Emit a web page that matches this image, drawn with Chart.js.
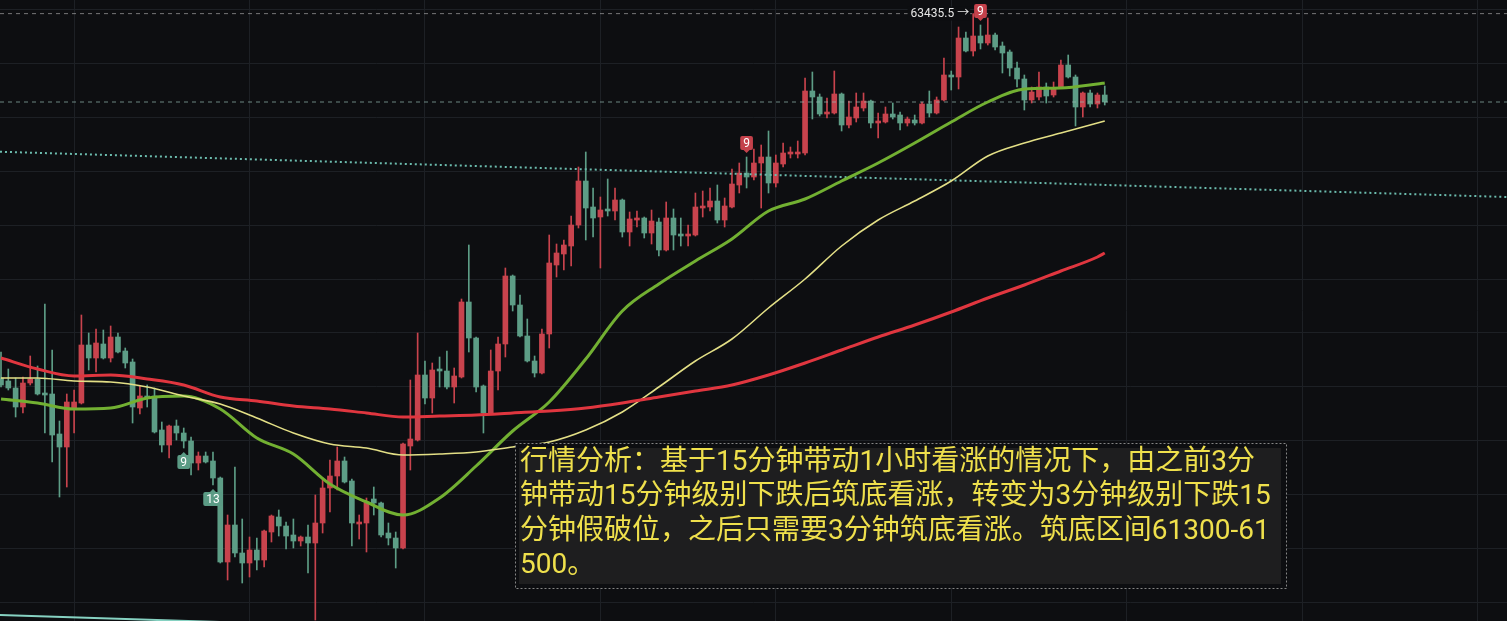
<!DOCTYPE html>
<html lang="zh">
<head>
    <meta charset="UTF-8">
    <title>行情分析</title>
    <script src="https://cdn.jsdelivr.net/npm/chart.js"></script>
    <style>
        body {
            margin: 0;
            background-color: #0d0e11;
            overflow: hidden;
        }

        #wrap {
            width: 1507px;
            height: 621px;
        }
    </style>
</head>
<body>
    <div id="wrap"><canvas id="kline" width="1507" height="621"></canvas></div>

    <script>
        // OHLC per candle (3-minute candles)
        const opens = [61978, 61966, 61938, 61862, 61958, 61974, 61918, 61914, 61754, 61702,
            61858, 61878, 62110, 62058, 62114, 62058, 62142, 62086, 62042, 61858,
            61906, 61906, 61770, 61710, 61786, 61758, 61726, 61638, 61666, 61646,
            61578, 61242, 61390, 61278, 61238, 61290, 61250, 61362, 61422, 61386,
            61350, 61326, 61342, 61318, 61398, 61538, 61586, 61646, 61566, 61394,
            61398, 61494, 61478, 61358, 61338, 61298, 61706, 61730, 61990, 61898,
            62014, 62006, 61942, 61982, 62282, 62138, 61946, 61838, 62006, 62114,
            62386, 62270, 62146, 62046, 61998, 62154, 62430, 62474, 62506, 62590,
            62766, 62662, 62622, 62654, 62646, 62690, 62562, 62610, 62618, 62558,
            62602, 62490, 62618, 62554, 62546, 62550, 62658, 62662, 62686, 62610,
            62662, 62750, 62798, 62782, 62838, 62862, 62758, 62834, 62874, 62874,
            62878, 63126, 63102, 63034, 63038, 63114, 62990, 63018, 63058, 63086,
            62998, 63002, 63034, 63030, 62998, 63010, 62998, 63074, 63038, 63090,
            63190, 63182, 63338, 63286, 63346, 63318, 63350, 63306, 63282, 63218,
            63174, 63090, 63102, 63142, 63110, 63142, 63230, 63182, 63062, 63118,
            63074, 63110];
        const highs = [62082, 62014, 61978, 61982, 62066, 62026, 62274, 62090, 61806, 61914,
            61930, 62230, 62158, 62174, 62170, 62186, 62158, 62098, 62054, 61946,
            61950, 61938, 61802, 61790, 61810, 61778, 61742, 61682, 61682, 61682,
            61582, 61430, 61622, 61414, 61342, 61338, 61370, 61430, 61450, 61402,
            61414, 61346, 61390, 61510, 61578, 61650, 61702, 61662, 61574, 61430,
            61498, 61542, 61482, 61398, 61362, 61718, 61970, 62158, 62046, 62038,
            62062, 62086, 62018, 62294, 62510, 62142, 61950, 62090, 62142, 62418,
            62390, 62310, 62214, 62066, 62174, 62550, 62514, 62530, 62626, 62822,
            62882, 62738, 62702, 62774, 62738, 62694, 62642, 62646, 62622, 62650,
            62618, 62682, 62654, 62618, 62590, 62718, 62726, 62738, 62750, 62698,
            62814, 62838, 62862, 62894, 62910, 62966, 62870, 62918, 62902, 62926,
            63178, 63202, 63114, 63098, 63206, 63118, 63086, 63118, 63118, 63090,
            63038, 63062, 63078, 63042, 63022, 63030, 63082, 63126, 63102, 63258,
            63206, 63382, 63362, 63435.5, 63390, 63418, 63358, 63322, 63290, 63242,
            63190, 63142, 63202, 63158, 63162, 63250, 63270, 63190, 63122, 63130,
            63118, 63146];
        const lows = [61942, 61930, 61822, 61838, 61950, 61910, 61758, 61642, 61502, 61542,
            61758, 61874, 62010, 62002, 62054, 62042, 62078, 62018, 61798, 61834,
            61862, 61758, 61682, 61658, 61730, 61698, 61590, 61610, 61638, 61550,
            61238, 61170, 61262, 61158, 61182, 61210, 61222, 61322, 61346, 61294,
            61298, 61306, 61198, 61010, 61358, 61442, 61530, 61558, 61306, 61334,
            61282, 61430, 61342, 61310, 61218, 61294, 61610, 61726, 61874, 61838,
            61942, 61934, 61878, 61978, 62082, 61922, 61758, 61834, 61930, 62062,
            62246, 62142, 62042, 61982, 61994, 62098, 62382, 62410, 62426, 62578,
            62530, 62542, 62418, 62626, 62610, 62542, 62506, 62582, 62538, 62514,
            62466, 62486, 62490, 62506, 62506, 62546, 62622, 62646, 62598, 62582,
            62658, 62718, 62738, 62770, 62658, 62718, 62742, 62822, 62858, 62858,
            62870, 63014, 63026, 63018, 63034, 62966, 62978, 63002, 63046, 62978,
            62938, 62998, 63014, 62970, 62986, 62990, 62994, 63022, 63034, 63086,
            63130, 63134, 63282, 63266, 63294, 63310, 63290, 63198, 63186, 63142,
            63050, 63078, 63090, 63078, 63102, 63138, 63178, 62986, 63022, 63062,
            63058, 63070];
        const closes = [61950, 61938, 61862, 61958, 61974, 61914, 61910, 61750, 61702, 61882,
            61882, 62110, 62058, 62118, 62058, 62142, 62082, 62038, 61862, 61906,
            61898, 61762, 61710, 61786, 61758, 61726, 61638, 61666, 61642, 61578,
            61242, 61390, 61278, 61238, 61290, 61250, 61366, 61426, 61386, 61346,
            61326, 61342, 61318, 61398, 61538, 61586, 61646, 61562, 61398, 61402,
            61482, 61478, 61350, 61338, 61298, 61714, 61734, 61990, 61898, 62010,
            62006, 61942, 61986, 62282, 62138, 61942, 61838, 62006, 62114, 62386,
            62270, 62146, 62046, 61998, 62154, 62438, 62478, 62510, 62590, 62766,
            62658, 62618, 62650, 62646, 62690, 62562, 62614, 62618, 62558, 62606,
            62490, 62618, 62550, 62546, 62554, 62662, 62666, 62686, 62610, 62666,
            62754, 62798, 62782, 62838, 62862, 62758, 62838, 62878, 62882, 62882,
            63126, 63102, 63034, 63042, 63114, 62990, 63022, 63062, 63086, 62998,
            63006, 63034, 63022, 62998, 63014, 62998, 63074, 63038, 63090, 63190,
            63182, 63338, 63286, 63346, 63318, 63350, 63302, 63278, 63218, 63174,
            63090, 63122, 63142, 63106, 63138, 63230, 63182, 63062, 63118, 63074,
            63110, 63082];

        // moving averages at these candle indexes
        const maIndex = [0, 5, 10, 15, 20, 25, 30, 35, 40, 45, 50, 55, 60, 65, 70, 75,
            80, 85, 90, 95, 100, 105, 110, 115, 120, 125, 130, 135, 140, 145, 150, 151];
        const maFast = [61894, 61878, 61854, 61858, 61898, 61906, 61854, 61738, 61674, 61554,
            61482, 61430, 61498, 61626, 61766, 61882, 62054, 62246, 62354, 62446,
            62534, 62646, 62694, 62766, 62838, 62918, 63002, 63082, 63134, 63138,
            63154, 63158];
        const maMid = [61978, 61978, 61966, 61962, 61942, 61906, 61874, 61818, 61758, 61714,
            61698, 61670, 61674, 61682, 61702, 61722, 61770, 61842, 61942, 62046,
            62134, 62258, 62374, 62506, 62610, 62686, 62766, 62866, 62918, 62958,
            62998, 63006];
        const maSlow = [62058, 62014, 61986, 61990, 61974, 61950, 61902, 61886, 61866, 61854,
            61838, 61822, 61826, 61830, 61838, 61846, 61858, 61878, 61902, 61926,
            61950, 61990, 62038, 62090, 62142, 62190, 62242, 62298, 62350, 62406,
            62462, 62478];

        // drawn trend lines (index, price)
        const trendIdx = [-0.14, 206];
        const trendPrice = [62883, 62702];
        const channelIdx = [-0.14, 60];
        const channelPrice = [61030, 60974];

        // TD sequential counts
        const markIdx = [25, 29, 102, 134];
        const markText = ['9', '13', '9', '9'];
        const markSide = ['low', 'low', 'high', 'high'];

        // grid
        const xGrid = [10, 34, 58, 82, 106, 130, 154, 178, 202];
        const yGrid = [61081, 61296, 61512, 61728, 61943, 62159, 62374, 62590, 62806, 63021, 63237, 63452];

        const noteLines = [
            '行情分析：基于15分钟带动1小时看涨的情况下，由之前3分',
            '钟带动15分钟级别下跌后筑底看涨，转变为3分钟级别下跌15',
            '分钟假破位，之后只需要3分钟筑底看涨。筑底区间61300-61',
            '500。'
        ];

        const X_MIN = -0.137, X_MAX = 206.03;
        const Y_MIN = 61006, Y_MAX = 63490;
        const UP = '#c8434d';
        const DOWN = '#5d9d86';
        const GRID = '#1d2025';

        const idx = opens.map((_, i) => i);
        const candleColor = idx.map(i => closes[i] >= opens[i] ? UP : DOWN);
        const hiValue = Math.max(...highs);
        const hiIdx = highs.indexOf(hiValue);
        const lastClose = closes[closes.length - 1];

        const series = (xs, ys) => xs.map((v, k) => ({ x: v, y: ys[k] }));

        const overlay = {
            id: 'overlay',
            beforeDraw(chart) {
                const ctx = chart.ctx;
                ctx.save();
                ctx.fillStyle = '#0d0e11';
                ctx.fillRect(0, 0, chart.width, chart.height);
                ctx.restore();
            },
            afterDatasetsDraw(chart) {
                const { ctx, scales: { x, y } } = chart;
                ctx.save();

                // count labels
                ctx.font = '12px Roboto, "Noto Sans CJK SC", sans-serif';
                ctx.textAlign = 'center';
                ctx.textBaseline = 'middle';
                markIdx.forEach((i, k) => {
                    const cx = x.getPixelForValue(i);
                    const above = markSide[k] === 'high';
                    const w = ctx.measureText(markText[k]).width + 6;
                    const h = 14;
                    const tip = above ? y.getPixelForValue(highs[i]) - 4 : y.getPixelForValue(lows[i]) + 4;
                    const top = above ? tip - 3 - h : tip + 3;
                    ctx.fillStyle = above ? '#c4414b' : '#5b9b85';
                    ctx.beginPath();
                    ctx.roundRect(cx - w / 2, top, w, h, 2);
                    ctx.fill();
                    ctx.beginPath();
                    const base = above ? top + h : top;
                    ctx.moveTo(cx - 3, base);
                    ctx.lineTo(cx + 3, base);
                    ctx.lineTo(cx, tip);
                    ctx.fill();
                    ctx.fillStyle = '#ffffff';
                    ctx.fillText(markText[k], cx, top + h / 2 + 0.5);
                });

                // highest price label
                const hx = x.getPixelForValue(hiIdx) - 4;
                const hy = y.getPixelForValue(hiValue);
                const label = hiValue.toFixed(1) + ' →';
                ctx.textAlign = 'right';
                const lw = ctx.measureText(label).width;
                ctx.fillStyle = '#0d0e11';
                ctx.fillRect(hx - lw - 3, hy - 7, lw + 4, 14);
                ctx.fillStyle = '#e6e6e6';
                ctx.fillText(label, hx, hy + 0.5);

                // note box
                const bx = 515, by = 443, bw = 771, bh = 145;
                ctx.fillStyle = '#0d0e11';
                ctx.fillRect(bx, by, bw, bh);
                ctx.fillStyle = '#1e1e1f';
                ctx.fillRect(bx + 4, by + 5, bw - 9, bh - 9);
                ctx.setLineDash([2, 2]);
                ctx.strokeStyle = '#858585';
                ctx.lineWidth = 1;
                ctx.strokeRect(bx + 0.5, by + 0.5, bw, bh);
                ctx.setLineDash([]);
                ctx.font = '28px Roboto, "Noto Sans CJK SC", sans-serif';
                ctx.textAlign = 'left';
                ctx.fillStyle = '#efe04c';
                noteLines.forEach((t, k) => {
                    ctx.fillText(t, bx + 5, by + 20 + k * 34.3);
                });
                ctx.restore();
            }
        };

        const lineSet = (data, color, width, extra) => Object.assign({
            type: 'line',
            data: data,
            borderColor: color,
            borderWidth: width,
            pointRadius: 0,
            fill: false,
            order: 1
        }, extra || {});

        new Chart(document.getElementById('kline'), {
            type: 'bar',
            data: {
                datasets: [
                    lineSet(series(maIndex, maSlow), '#e0363f', 3, { cubicInterpolationMode: 'monotone' }),
                    lineSet(series(maIndex, maMid), '#e3df86', 1.6, { cubicInterpolationMode: 'monotone' }),
                    lineSet(series(maIndex, maFast), '#72b032', 3, { cubicInterpolationMode: 'monotone' }),
                    lineSet(series(trendIdx, trendPrice), '#6cbcae', 2, { borderDash: [2, 3], order: 2 }),
                    lineSet(series(channelIdx, channelPrice), '#86d2c2', 2, { order: 2 }),
                    lineSet(series([X_MIN, X_MAX], [hiValue, hiValue]), 'rgba(190,190,190,0.6)', 1, { borderDash: [4, 4], order: 2 }),
                    lineSet(series([X_MIN, X_MAX], [lastClose, lastClose]), 'rgba(150,185,178,0.7)', 1, { borderDash: [4, 4], order: 2 }),
                    {
                        data: idx.map(i => ({ x: i, y: [lows[i], highs[i]] })),
                        backgroundColor: candleColor,
                        barThickness: 1,
                        grouped: false,
                        order: 4
                    },
                    {
                        data: idx.map(i => ({ x: i, y: [opens[i], closes[i]] })),
                        backgroundColor: candleColor,
                        barThickness: 5,
                        grouped: false,
                        order: 3
                    }
                ]
            },
            options: {
                responsive: false,
                devicePixelRatio: 1,
                animation: false,
                events: [],
                layout: { padding: 0 },
                plugins: {
                    legend: { display: false },
                    tooltip: { enabled: false }
                },
                scales: {
                    x: {
                        type: 'linear',
                        min: X_MIN,
                        max: X_MAX,
                        offset: false,
                        afterBuildTicks: s => { s.ticks = xGrid.map(v => ({ value: v })); },
                        ticks: { display: false },
                        grid: { color: GRID, drawTicks: false, offset: false },
                        border: { display: false }
                    },
                    y: {
                        type: 'linear',
                        position: 'right',
                        min: Y_MIN,
                        max: Y_MAX,
                        beginAtZero: false,
                        afterBuildTicks: s => { s.ticks = yGrid.map(v => ({ value: v })); },
                        ticks: { display: false },
                        grid: { color: GRID, drawTicks: false },
                        border: { display: false }
                    }
                }
            },
            plugins: [overlay]
        });
    </script>
</body>
</html>
